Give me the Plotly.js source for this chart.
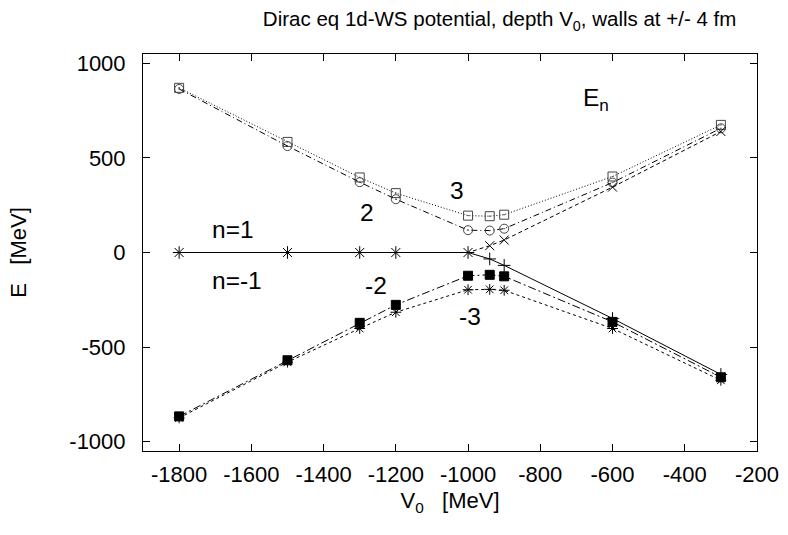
<!DOCTYPE html>
<html>
<head>
<meta charset="utf-8">
<script src="https://cdn.plot.ly/plotly-3.0.1.min.js"></script>
<style>html,body{margin:0;padding:0;background:#fff;}#chart{width:788px;height:535px;}</style>
</head>
<body>
<div id="chart"></div>
<script>
const V0 = [-1800, -1500, -1300, -1200, -1000, -940, -900, -600, -300];
const E_n3  = [871, 585, 397, 314, 195, 192, 200, 402, 675];
const E_n2  = [865, 563, 372, 282, 118, 116, 126, 370, 657];
const E_n1  = [0, 0, 0, 0, 0, 36, 66, 346, 640];
const E_nm1 = [0, 0, 0, 0, 0, -34, -68, -349, -645];
const E_nm2 = [-867, -570, -372, -277, -123, -118, -126, -367, -660];
const E_nm3 = [-875, -580, -402, -316, -197, -195, -200, -402, -676];

const xTickVals = [-1800, -1600, -1400, -1200, -1000, -800, -600, -400, -200];
const xTickText = ['-1800', '-1600', '-1400', '-1200', '-1000', '-800', '-600', '-400', '-200'];
const yTickVals = [-1000, -500, 0, 500, 1000];
const yTickText = ['-1000', '-500', '0', '500', '1000'];

const labelTexts = ['E<sub>n</sub>', '3', '2', 'n=1', 'n=-1', '-2', '-3'];
const labelX = [-645, -1030, -1280, -1651, -1640, -1256, -996];
const labelY = [810, 330, 210, 124, -150, -172, -337];

const FONT = 'Liberation Sans, Arial, sans-serif';

function tr(y, dash, sym, size, col) {
  return {x: V0, y: y, mode: 'lines+markers', type: 'scatter',
    line: {color: '#000', width: 1, dash: dash},
    marker: {symbol: sym, size: size, color: col || '#000', line: {color: col || '#000', width: 1}},
    showlegend: false, hoverinfo: 'skip'};
}

const data = [
  tr(E_n3, '1px,2px', 'square-open-dot', 9, '#444'),
  tr(E_n2, '6px,3px,1px,3px', 'circle-open-dot', 9, '#444'),
  tr(E_n1, '4px,3px', 'x-thin-open', 9),
  tr(E_nm1, 'solid', 'cross-thin-open', 9),
  tr(E_nm2, '8px,3px,2px,3px', 'square', 9),
  tr(E_nm3, '3px,3px', 'asterisk-open', 9)
];

const axisCommon = {
  showgrid: false, zeroline: false, showline: true, linecolor: '#000', linewidth: 1,
  mirror: 'ticks', ticks: 'inside', ticklen: 7, tickcolor: '#000', tickwidth: 1,
  tickmode: 'array',
  tickfont: {family: FONT, size: 22, color: '#000'}
};

const layout = {
  width: 788, height: 535,
  margin: {l: 143, r: 31, t: 54, b: 84},
  paper_bgcolor: '#fff', plot_bgcolor: '#fff',
  font: {family: FONT, color: '#000'},
  title: {text: 'Dirac eq 1d-WS potential, depth V<sub>0</sub>, walls at +/- 4 fm',
    xref: 'container', yref: 'container',
    x: 0.634, xanchor: 'center', y: 0.964, yanchor: 'middle',
    font: {size: 20.5, family: FONT, color: '#000'}},
  xaxis: Object.assign({}, axisCommon, {
    range: [-1900, -200], tickvals: xTickVals, ticktext: xTickText,
    ticklabelstandoff: 4,
    title: {text: 'V<sub>0</sub>&nbsp;&nbsp;&nbsp;[MeV]', standoff: 6, font: {size: 22, color: '#000', family: FONT}}
  }),
  yaxis: Object.assign({}, axisCommon, {
    range: [-1050, 1050], tickvals: yTickVals, ticktext: yTickText,
    ticklabelstandoff: 12,
    title: {text: 'E&nbsp;&nbsp;&nbsp;[MeV]', standoff: 36, font: {size: 22, color: '#000', family: FONT}}
  }),
  annotations: labelTexts.map((t, i) => ({text: t, x: labelX[i], y: labelY[i], xref: 'x', yref: 'y',
    showarrow: false, font: {size: 24.5, color: '#000', family: FONT}}))
};

Plotly.newPlot('chart', data, layout, {displayModeBar: false, staticPlot: true});
</script>
</body>
</html>
